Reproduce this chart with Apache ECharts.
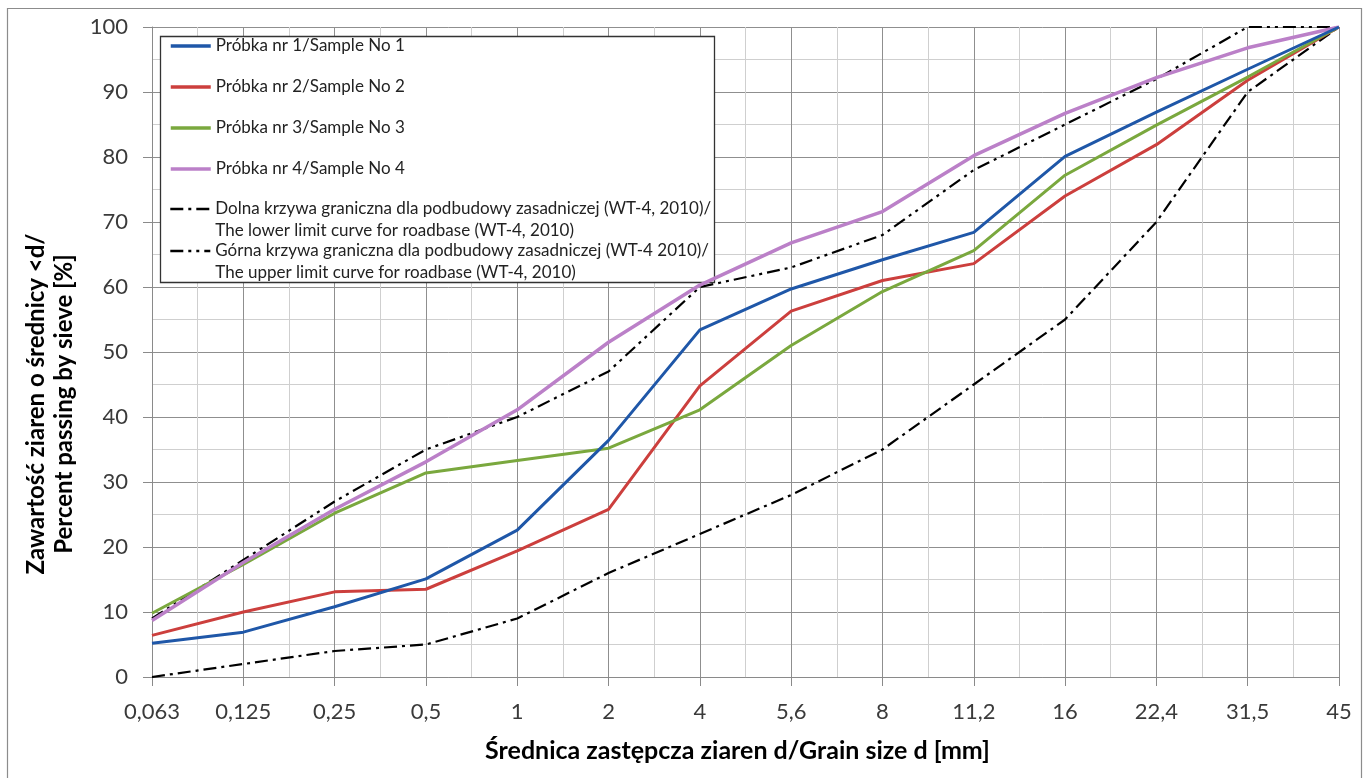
<!DOCTYPE html>
<html>
<head>
<meta charset="utf-8">
<script src="https://cdn.jsdelivr.net/npm/echarts@6/dist/echarts.min.js"></script>
<style>
html,body{margin:0;padding:0;background:#fff;}
#c{width:1367px;height:778px;}
</style>
</head>
<body>
<div id="c"></div>
<script>
const categories = ['0,063','0,125','0,25','0,5','1','2','4','5,6','8','11,2','16','22,4','31,5','45'];
const sample1 = [5.2, 6.9, 10.8, 15.1, 22.6, 36.4, 53.4, 59.7, 64.2, 68.4, 80.1, 86.9, 93.5, 100];
const sample2 = [6.4, 10.0, 13.1, 13.5, 19.4, 25.8, 44.8, 56.3, 61.0, 63.6, 74.0, 81.9, 91.8, 100];
const sample3 = [9.8, 17.3, 25.2, 31.4, 33.3, 35.2, 41.1, 51.0, 59.3, 65.6, 77.2, 84.9, 92.3, 100];
const sample4 = [8.7, 17.6, 25.8, 33.1, 41.1, 51.5, 60.3, 66.8, 71.6, 80.2, 86.7, 92.2, 96.8, 100];
const lowerLimit = [0, 2, 4, 5, 9, 16, 22, 28, 35, 45, 55, 70, 90, 100];
const upperLimit = [9, 18, 27, 35, 40, 47, 60, 63, 68, 78, 85, 92, 100, 100];

const names = [
  'Próbka nr 1/Sample No 1',
  'Próbka nr 2/Sample No 2',
  'Próbka nr 3/Sample No 3',
  'Próbka nr 4/Sample No 4',
  'Dolna krzywa graniczna dla podbudowy zasadniczej (WT-4, 2010)/\nThe lower limit curve for roadbase (WT-4, 2010)',
  'Górna krzywa graniczna dla podbudowy zasadniczej (WT-4 2010)/\nThe upper limit curve for roadbase (WT-4, 2010)'
];

const FONT = 'Lato, "Open Sans", sans-serif';
const pairs = arr => arr.map((v, i) => [i, v]);

const chart = echarts.init(document.getElementById('c'), null, {renderer: 'canvas'});

function mkLine(name, data, color, width, type, z) {
  return {
    name: name, type: 'line', data: pairs(data), symbol: 'none',
    lineStyle: {color: color, width: width, type: type},
    itemStyle: {color: color},
    z: z, animation: false
  };
}

const legendText = {fontFamily: FONT, fontSize: 17, color: '#222', lineHeight: 22};
const legendBase = {
  orient: 'vertical', left: 169, padding: 0,
  itemWidth: 40, itemHeight: 14,
  itemStyle: {opacity: 0},
  textStyle: legendText
};

const option = {
  backgroundColor: '#fff',
  animation: false,
  grid: {left: 152, right: 28, top: 27, bottom: 101, containLabel: false},
  xAxis: {
    type: 'value', min: 0, max: categories.length - 1, interval: 1,
    axisLine: {show: true, lineStyle: {color: '#8a8a8a', width: 1}},
    axisTick: {show: true, length: 9, lineStyle: {color: '#8a8a8a'}},
    axisLabel: {
      formatter: v => categories[v] !== undefined ? categories[v] : '',
      fontFamily: FONT, fontSize: 22, color: '#3a3a3a', margin: 24
    },
    splitLine: {show: true, lineStyle: {color: '#8f8f8f', width: 1}},
    minorTick: {show: false, splitNumber: 2},
    minorSplitLine: {show: true, lineStyle: {color: '#cfcfcf', width: 1}},
    name: 'Średnica zastępcza ziaren d/Grain size d [mm]',
    nameLocation: 'middle', nameGap: 61,
    nameTextStyle: {fontFamily: FONT, fontSize: 25, fontWeight: 'bold', color: '#000', padding: [0, 16, 0, 0]}
  },
  yAxis: {
    type: 'value', min: 0, max: 100, interval: 10,
    axisLine: {show: true, lineStyle: {color: '#8a8a8a', width: 1}},
    axisTick: {show: true, length: 9, lineStyle: {color: '#8a8a8a'}},
    axisLabel: {fontFamily: FONT, fontSize: 22, color: '#3a3a3a', margin: 24},
    splitLine: {show: true, lineStyle: {color: '#8f8f8f', width: 1}},
    minorTick: {show: false, splitNumber: 2},
    minorSplitLine: {show: true, lineStyle: {color: '#cfcfcf', width: 1}},
    name: 'Zawartość ziaren o średnicy <d/\nPercent passing by sieve [%]',
    nameLocation: 'middle', nameGap: 74, nameRotate: 90,
    nameTextStyle: {fontFamily: FONT, fontSize: 24, fontWeight: 'bold', color: '#000', lineHeight: 28, padding: [0, 104, 0, 0]}
  },
  legend: [
    Object.assign({}, legendBase, {data: names.slice(0, 4), top: 35, itemGap: 19, lineStyle: {width: 3.5}}),
    Object.assign({}, legendBase, {data: [names[4]], top: 176, formatter: n => '\n' + n, lineStyle: {width: 2.6}}),
    Object.assign({}, legendBase, {data: [names[5]], top: 218, formatter: n => '\n' + n, lineStyle: {width: 2.6}})
  ],
  graphic: [
    {type: 'rect', shape: {x: 7.5, y: 8.5, width: 1354, height: 790},
     style: {fill: 'none', stroke: '#8c8c8c', lineWidth: 1.2}, z: 1, silent: true},
    {type: 'rect', shape: {x: 160.5, y: 36.5, width: 554, height: 246},
     style: {fill: '#fff', stroke: '#333', lineWidth: 1.3}, z: 3, silent: true}
  ],
  series: [
    mkLine(names[4], lowerLimit, '#000', 2.2, [13, 5, 3, 5], 2),
    mkLine(names[5], upperLimit, '#000', 2.2, [13, 5, 3, 5, 3, 5], 2),
    mkLine(names[1], sample2, '#cc3f3d', 3, 'solid', 3),
    mkLine(names[2], sample3, '#7aa83e', 3, 'solid', 3),
    mkLine(names[0], sample1, '#1f57a8', 3, 'solid', 4),
    mkLine(names[3], sample4, '#bb80c8', 3.5, 'solid', 3)
  ]
};
chart.setOption(option);
</script>
</body>
</html>
